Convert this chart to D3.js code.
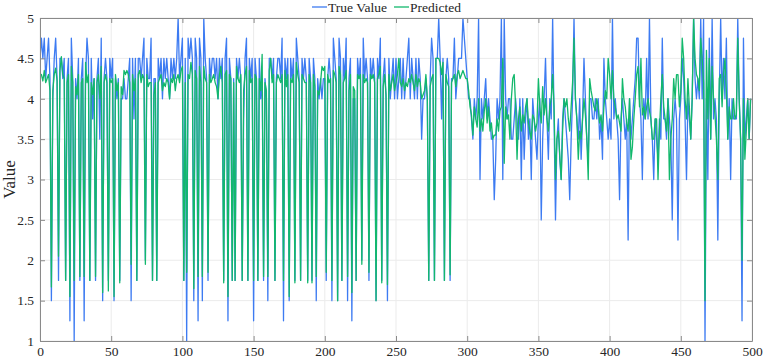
<!DOCTYPE html>
<html><head><meta charset="utf-8">
<script src="https://cdn.jsdelivr.net/npm/d3@7"></script>
<style>body{margin:0;background:#fff}svg{display:block}text{font-family:"Liberation Serif",serif}</style>
</head><body><svg id="c" width="763" height="360"></svg>
<script>
const seriesNames = ["True Value", "Predicted"];
const xTicks = [0,50,100,150,200,250,300,350,400,450,500];
const yTicks = [1,1.5,2,2.5,3,3.5,4,4.5,5];
const trueValue = [
4.5,4.75,4.5,4.75,4.25,4.5,4.75,4.25,1.5,4.0,
4.5,4.75,4.25,1.75,4.5,4.5,4.25,4.5,1.75,4.25,
4.5,1.25,4.75,4.25,1.0,4.25,4.0,4.5,1.75,4.25,
4.5,1.25,4.25,4.75,4.5,1.75,4.5,3.75,4.25,1.75,
4.25,4.5,3.5,4.75,1.5,4.25,4.5,4.25,1.75,4.5,
4.25,4.5,1.5,4.25,4.0,4.25,1.75,4.0,4.0,4.25,
4.0,4.0,4.25,4.5,1.5,4.5,3.75,4.5,1.75,4.5,
4.5,4.25,4.5,4.75,2.0,4.5,4.25,4.25,4.75,1.75,
4.25,4.25,1.75,4.5,4.25,4.5,4.0,4.5,4.25,4.5,
4.25,4.0,4.5,4.25,4.5,4.25,4.5,5.0,4.25,4.5,
4.75,1.75,4.5,1.0,4.75,4.5,4.75,4.5,1.5,4.75,
4.5,1.25,4.75,4.5,1.5,5.0,4.5,4.25,1.75,4.5,
4.25,4.5,4.5,4.25,4.5,4.0,4.5,4.25,4.5,1.75,
4.5,4.75,1.25,4.5,4.25,1.75,4.25,1.75,4.5,4.25,
4.5,4.25,1.75,3.75,4.5,4.75,1.75,4.5,4.25,4.5,
1.25,4.5,4.25,1.75,4.5,4.0,4.25,1.75,4.25,4.0,
1.5,4.5,4.5,4.25,4.5,1.75,4.25,4.5,4.5,4.25,
4.75,1.25,4.5,4.25,4.5,1.5,4.5,4.25,4.5,1.75,
4.75,4.5,4.25,1.75,4.5,4.25,4.5,4.25,1.75,4.5,
4.25,1.75,4.5,4.25,1.5,4.25,4.0,4.25,4.0,4.25,
4.25,1.75,4.25,4.5,4.25,1.5,4.75,4.5,4.25,1.5,
4.75,4.5,1.75,4.5,4.25,4.75,1.5,4.25,4.5,1.25,
4.0,4.0,1.75,4.5,4.25,4.5,2.0,4.75,4.25,4.5,
4.25,1.75,4.5,4.25,4.5,4.25,1.5,4.5,4.25,4.75,
1.75,4.25,4.5,4.0,1.5,4.5,4.0,4.25,4.5,4.0,
4.5,4.0,4.25,4.5,4.0,4.5,4.0,4.25,4.5,4.75,
4.0,4.5,4.25,4.0,4.5,4.0,4.5,4.25,3.5,4.0,
4.0,4.25,4.0,1.75,4.25,4.75,4.5,1.75,4.5,4.5,
5.0,4.5,3.75,4.5,1.75,4.25,4.5,4.25,1.75,4.25,
4.25,4.75,4.0,4.25,4.5,4.5,4.5,5.0,4.75,4.5,
4.25,4.0,4.0,3.75,3.5,4.0,3.75,4.0,5.0,3.0,
4.0,3.75,4.0,4.25,3.75,4.0,3.75,3.5,3.5,2.75,
3.25,4.0,3.75,4.0,5.0,3.0,5.0,4.0,3.75,4.0,
4.0,3.5,3.5,3.75,4.0,3.75,3.5,4.0,3.0,4.0,
3.25,3.75,4.0,3.5,3.75,3.0,4.0,3.75,3.5,3.25,
3.75,4.0,2.5,3.5,4.0,4.5,3.75,3.25,4.0,3.75,
5.0,3.75,2.5,3.5,3.75,3.25,3.0,3.75,4.0,3.75,
3.5,3.25,2.75,3.5,4.0,5.0,4.0,3.75,3.5,4.0,
3.25,3.75,4.5,4.0,3.5,3.25,4.0,4.0,3.75,3.75,
4.0,3.75,4.0,3.5,3.75,3.25,4.5,4.0,3.75,3.5,
3.75,3.5,5.0,3.75,4.0,3.75,3.5,2.75,3.75,4.0,
3.75,3.5,3.75,2.25,4.0,3.5,3.75,4.0,4.25,4.75,
4.75,4.0,3.75,3.0,4.0,3.75,4.5,3.75,5.0,3.75,
3.5,3.0,3.75,3.5,3.25,3.75,3.5,4.75,3.75,3.75,
3.5,4.0,3.75,3.5,2.5,3.75,4.0,3.75,2.25,3.75,
4.0,4.5,4.25,3.75,3.0,4.0,3.75,3.5,4.0,5.0,
4.25,4.0,4.25,4.0,5.0,4.0,5.0,1.0,4.0,3.0,
4.75,3.5,5.0,3.75,4.0,3.75,2.25,4.0,5.0,4.0,
4.5,4.0,4.75,3.5,4.0,3.0,4.0,3.75,3.75,3.75,
5.0,4.0,3.5,1.25,4.75,3.5,3.75,4.0,3.5,4.0
];
const predicted = [
4.28,4.3,4.22,4.35,4.2,4.25,4.3,4.1,1.67,4.1,
4.3,4.38,4.22,2.05,4.35,4.52,4.3,4.25,1.75,4.2,
4.3,1.55,4.4,4.2,1.75,4.15,4.05,4.3,1.8,4.2,
4.25,1.8,4.45,4.2,4.3,1.75,4.2,4.05,4.25,1.8,
4.2,4.3,4.0,4.4,1.6,4.2,4.3,4.2,1.62,4.25,
4.2,4.25,1.55,4.3,4.1,4.2,1.72,4.15,4.05,4.35,
4.3,4.35,4.3,4.2,1.95,4.3,4.1,4.25,1.75,4.3,
4.35,4.2,4.3,4.25,1.95,4.3,4.15,4.2,4.2,1.75,
4.05,4.2,1.75,4.2,4.25,4.3,4.1,4.2,4.15,4.25,
4.2,4.0,4.25,4.2,4.3,4.1,4.25,4.3,4.2,4.35,
4.4,1.75,4.2,1.85,4.3,4.25,4.45,4.3,1.65,4.35,
4.25,1.8,4.4,4.2,1.8,4.4,4.25,4.2,1.85,4.3,
4.2,4.25,4.3,4.2,4.15,4.0,4.3,4.4,4.2,1.72,
4.3,4.35,1.55,4.3,4.25,1.75,4.2,1.75,4.4,4.25,
4.2,4.3,1.75,4.1,4.3,4.4,1.75,4.35,4.2,4.25,
1.75,4.3,4.25,1.75,4.25,4.1,4.55,1.8,4.2,4.1,
1.8,4.35,4.5,4.2,4.3,1.75,4.2,4.3,4.25,4.2,
4.3,1.75,4.35,4.15,4.3,1.55,4.25,4.2,4.3,1.72,
4.45,4.3,4.2,1.75,4.3,4.25,4.2,4.2,1.72,4.3,
4.2,1.72,4.3,4.15,1.8,4.1,4.05,4.2,4.4,4.35,
4.4,1.85,4.3,4.2,4.25,1.75,4.35,4.3,4.2,1.5,
4.4,4.3,1.75,4.2,4.25,4.35,1.8,4.1,4.3,1.6,
4.15,4.1,1.75,4.3,4.25,4.3,1.95,4.3,4.2,4.25,
4.2,1.85,4.3,4.25,4.3,4.2,1.5,4.25,4.3,4.4,
1.72,4.15,4.3,4.05,1.7,4.3,4.1,4.2,4.3,4.1,
4.2,4.3,4.5,4.2,4.15,4.25,4.1,4.2,4.15,4.25,
4.2,4.3,4.2,4.1,4.3,4.15,4.25,4.2,4.0,4.05,
4.1,4.3,4.0,1.75,4.15,4.25,4.3,1.75,4.5,4.5,
4.5,4.45,4.3,4.45,1.75,4.3,4.2,4.15,1.82,4.2,
4.25,4.3,4.15,4.3,4.35,4.25,4.3,4.35,4.3,4.25,
4.25,4.1,3.9,3.8,3.55,3.9,3.75,3.65,4.0,3.6,
3.75,3.6,3.85,4.0,3.7,3.9,3.6,3.7,3.5,3.55,
3.55,3.75,3.6,3.85,3.9,4.5,3.2,3.9,3.75,3.8,
3.5,4.0,4.25,4.3,3.9,3.25,3.75,3.9,3.6,3.8,
3.7,3.9,4.0,3.7,3.6,3.5,3.8,3.75,3.6,3.7,
4.25,3.9,3.7,4.15,3.8,4.0,3.75,3.6,3.9,4.0,
4.3,3.9,3.0,3.5,3.6,3.3,3.0,3.6,4.0,3.9,
4.0,3.75,3.6,3.9,4.2,4.75,4.0,3.75,3.25,3.6,
3.5,3.75,4.0,3.8,3.5,3.0,4.25,4.1,4.0,3.9,
3.85,4.0,3.9,3.7,3.8,3.6,3.9,4.1,4.0,4.5,
4.3,4.0,4.35,4.0,3.9,3.75,3.8,3.7,3.6,4.25,
4.0,3.9,3.7,3.6,4.0,3.25,3.4,3.75,4.0,4.3,
4.4,3.9,4.5,3.8,3.9,3.75,3.9,4.0,3.85,3.75,
3.5,3.5,3.75,3.75,3.0,3.6,4.0,4.3,3.9,3.75,
3.6,4.0,3.0,3.5,3.75,4.25,4.0,4.3,4.3,3.9,
4.1,4.75,4.5,4.0,3.75,4.25,3.9,3.5,4.0,5.0,
4.5,4.3,4.25,4.1,4.75,4.5,4.2,1.5,4.6,3.75,
4.5,3.5,4.4,4.0,3.8,3.5,3.0,4.25,4.3,3.9,
4.3,4.5,4.1,3.5,3.9,3.75,3.75,4.0,3.75,3.8,
4.75,4.0,3.5,2.0,4.0,3.25,3.6,4.0,3.5,4.0
];
const indices = d3.range(trueValue.length);

const svg = d3.select("#c");
const m = {l:40, r:11, t:18, b:19};
const W = 763, H = 360;
const x = d3.scaleLinear().domain([0,500]).range([m.l, W-m.r]);
const y = d3.scaleLinear().domain([1,5]).range([H-m.b, m.t]);
const FONT = "'Liberation Serif', serif";

// grid
svg.append("g").selectAll("line").data(xTicks).join("line")
  .attr("x1",d=>x(d)).attr("x2",d=>x(d)).attr("y1",y(1)).attr("y2",y(5))
  .attr("stroke","#ebebeb").attr("stroke-width",1);
svg.append("g").selectAll("line").data(yTicks).join("line")
  .attr("y1",d=>y(d)).attr("y2",d=>y(d)).attr("x1",x(0)).attr("x2",x(500))
  .attr("stroke","#ebebeb").attr("stroke-width",1);

const line = d3.line().x((d,i)=>x(indices[i])).y(d=>y(d));
svg.append("clipPath").attr("id","cp").append("rect")
  .attr("x",x(0)).attr("y",y(5)).attr("width",x(500)-x(0)).attr("height",y(1)-y(5));
svg.append("path").datum(trueValue).attr("d",line).attr("fill","none")
  .attr("stroke","#3d7bf2").attr("stroke-width",1.3).attr("stroke-linejoin","round").attr("clip-path","url(#cp)");
svg.append("path").datum(predicted).attr("d",line).attr("fill","none")
  .attr("stroke","#12b86c").attr("stroke-width",1.3).attr("stroke-linejoin","round").attr("clip-path","url(#cp)");

// axes
const axisColor = "#8a8a8a";
const xb = svg.append("g").attr("transform",`translate(0,${y(1)})`)
  .call(d3.axisBottom(x).tickValues(xTicks).tickSizeInner(-5).tickSizeOuter(0).tickPadding(5));
const xt = svg.append("g").attr("transform",`translate(0,${y(5)})`)
  .call(d3.axisTop(x).tickValues(xTicks).tickSizeInner(-5).tickSizeOuter(0).tickFormat(""));
const yl = svg.append("g").attr("transform",`translate(${x(0)},0)`)
  .call(d3.axisLeft(y).tickValues(yTicks).tickSizeInner(-5).tickSizeOuter(0).tickPadding(6).tickFormat(d3.format("")));
const yr = svg.append("g").attr("transform",`translate(${x(500)},0)`)
  .call(d3.axisRight(y).tickValues(yTicks).tickSizeInner(-5).tickSizeOuter(0).tickFormat(""));
[xb,xt,yl,yr].forEach(g=>{
  g.attr("font-family",FONT);
  g.select(".domain").attr("stroke",axisColor);
  g.selectAll(".tick line").attr("stroke",axisColor);
  g.selectAll("text").attr("fill","#262626").attr("font-family",FONT).style("font-size","13.5px");
});

svg.append("text").attr("transform",`translate(15,${(y(1)+y(5))/2}) rotate(-90)`)
  .attr("text-anchor","middle").attr("fill","#262626").attr("font-family",FONT)
  .style("font-size","17px").text("Value");

// legend
const colors = ["#3d7bf2","#12b86c"];
const lg = svg.append("g");
const lx = [312, 394];
seriesNames.forEach((s,i)=>{
  lg.append("line").attr("x1",lx[i]).attr("x2",lx[i]+15).attr("y1",7).attr("y2",7)
    .attr("stroke",colors[i]).attr("stroke-width",1.3);
  lg.append("text").attr("x",lx[i]+16).attr("y",11.5).attr("fill","#262626").attr("font-family",FONT)
    .style("font-size","13.5px").text(s);
});
</script></body></html>
